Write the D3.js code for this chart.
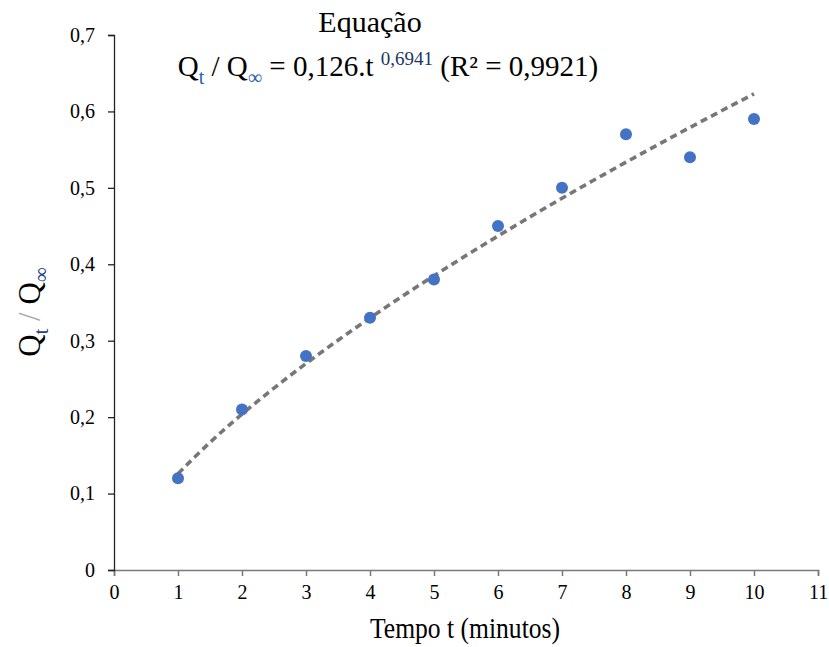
<!DOCTYPE html>
<html><head><meta charset="utf-8">
<script src="https://cdn.jsdelivr.net/npm/d3@7"></script>
<style>body{margin:0;background:#fff}svg{display:block}svg text{font-family:"Liberation Serif","Times New Roman",Tinos,serif}</style>
</head><body>
<svg id="c" width="829" height="647"></svg>
<script>
const times = [1,2,3,4,5,6,7,8,9,10];
const values = [0.12,0.21,0.28,0.33,0.38,0.45,0.50,0.57,0.54,0.59];
const xTicks = [0,1,2,3,4,5,6,7,8,9,10,11];
const yTicks = [0,0.1,0.2,0.3,0.4,0.5,0.6,0.7];
const fitCoef = [0.126, 0.6941]; // Qt/Qinf = a * t^b
const fitT = [1,1.5,2,2.5,3,3.5,4,4.5,5,5.5,6,6.5,7,7.5,8,8.5,9,9.5,10];

const svg = d3.select("#c");
const x = d3.scaleLinear().domain([0,11]).range([114,818]);
const y = d3.scaleLinear().domain([0,0.7]).range([570,35]);
const fmt = d => String(d).replace(".", ",");

const xa = svg.append("g").attr("transform","translate(0,570)")
  .call(d3.axisBottom(x).tickValues(xTicks).tickFormat(fmt).tickSize(6).tickPadding(9));
const ya = svg.append("g").attr("transform","translate(114,0)")
  .call(d3.axisLeft(y).tickValues(yTicks).tickFormat(fmt).tickSize(6).tickPadding(13));
[xa,ya].forEach(a=>{
  a.attr("font-family",null).attr("font-size",null);
  a.selectAll("text").style("font-size","20px").attr("fill","#000");
});
xa.selectAll("path,line").attr("stroke","#7a7a7a").attr("stroke-width",1.5);
ya.selectAll("path,line").attr("stroke","#222").attr("stroke-width",1.3);
ya.select("path").attr("d","M-6,570.5H0.5V35.5H-6");

// trend line
const line = d3.line().x(d=>x(d)).y(d=>y(fitCoef[0]*Math.pow(d,fitCoef[1]))).curve(d3.curveMonotoneX);
svg.append("path").datum(fitT).attr("d",line).attr("fill","none")
  .attr("stroke","#777").attr("stroke-width",3.6).attr("stroke-dasharray","7,4.5");

// points
svg.append("g").selectAll("circle").data(times).join("circle")
  .attr("cx",d=>x(d)).attr("cy",(d,i)=>y(values[i])).attr("r",6).attr("fill","#4472C4");

// title
svg.append("text").attr("x",370).attr("y",32).attr("text-anchor","middle")
  .style("font-size","30px").text("Equação");
const t2 = svg.append("text").attr("x",388).attr("y",76).attr("text-anchor","middle")
  .style("font-size","29px");
t2.append("tspan").text("Q");
t2.append("tspan").attr("dy",8).style("font-size","20px").attr("fill","#2e62ad").text("t");
t2.append("tspan").attr("dy",-8).text(" / Q");
t2.append("tspan").attr("dy",8).style("font-size","20px").attr("fill","#2e62ad").text("∞");
t2.append("tspan").attr("dy",-8).text(" = 0,126.t ");
t2.append("tspan").attr("dy",-11).style("font-size","19px").attr("fill","#1a3766").text("0,6941");
t2.append("tspan").attr("dy",11).text(" (R² = 0,9921)");

// x label
svg.append("text").attr("x",465).attr("y",638).attr("text-anchor","middle")
  .attr("textLength",190).attr("lengthAdjust","spacingAndGlyphs")
  .style("font-size","29px").text("Tempo t (minutos)");

// y label
const yl = svg.append("text").attr("transform","translate(40,312) rotate(-90)").attr("text-anchor","middle")
  .style("font-size","31px");
yl.append("tspan").text("Q");
yl.append("tspan").attr("dy",8).style("font-size","21px").attr("fill","#1f3f80").text("t");
yl.append("tspan").attr("dy",-8).attr("fill","#aaa").text("  /  ");
yl.append("tspan").text("Q");
yl.append("tspan").attr("dy",8).style("font-size","21px").attr("fill","#1f3f80").text("∞");
</script>
</body></html>
